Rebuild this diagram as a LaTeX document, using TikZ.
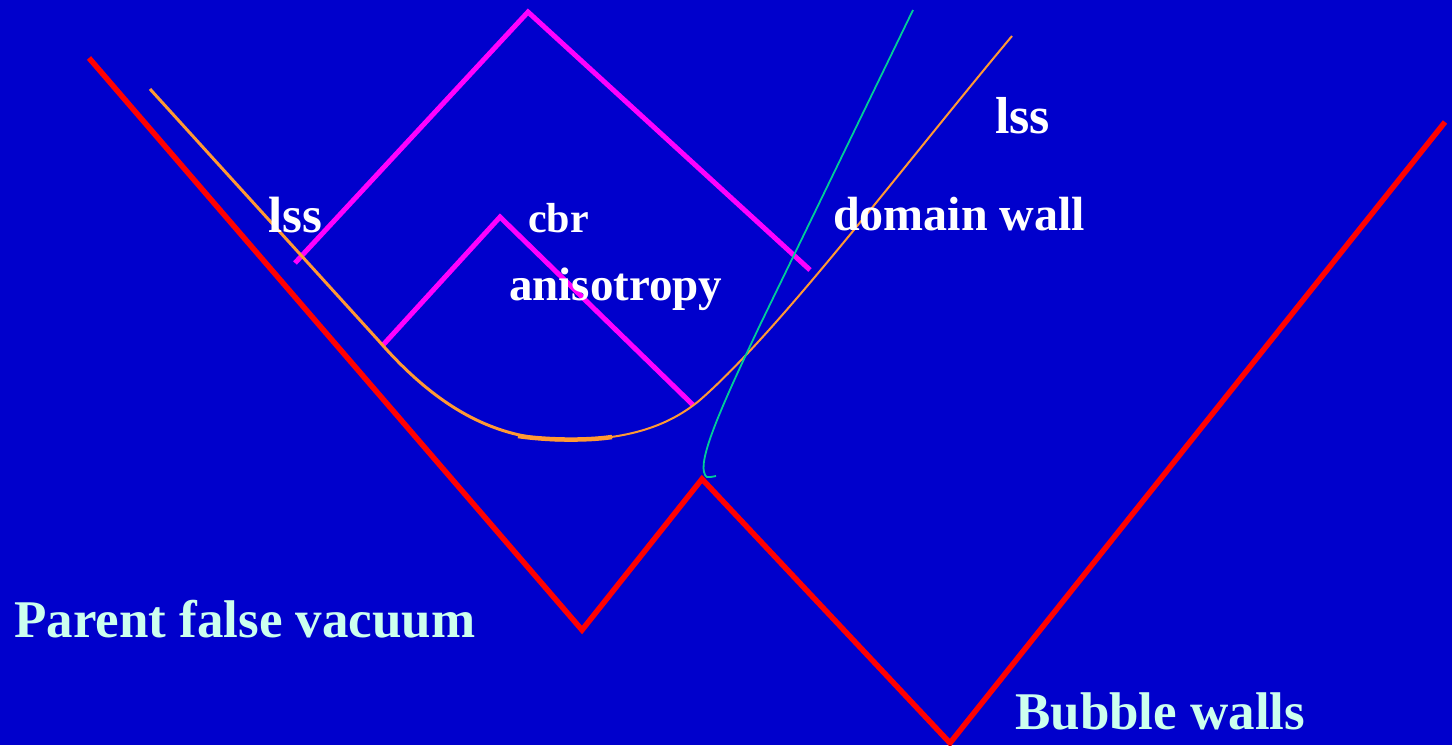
\documentclass[tikz,border=0pt]{standalone}
\usepackage{fontspec}
\setmainfont{Liberation Serif}
\definecolor{bg}{HTML}{0000CC}
\definecolor{wallred}{HTML}{FF0000}
\definecolor{mag}{HTML}{FF00FF}
\definecolor{orng}{HTML}{FF9933}
\definecolor{teal2}{HTML}{00CC99}
\definecolor{lcyan}{HTML}{CCFFEE}
\tikzset{
  wall/.style={draw=wallred, line width=5.5pt, line join=miter},
  cone/.style={draw=mag, line width=5pt, line join=miter},
  orangecurve/.style={draw=orng, line width=#1},
  tealcurve/.style={draw=teal2, line width=1.8pt},
  lbl/.style={anchor=base west, inner sep=0pt, text=white, font=\bfseries\fontsize{#1}{#1}\selectfont},
  biglbl/.style={anchor=base west, inner sep=0pt, text=lcyan, font=\bfseries\fontsize{53}{53}\selectfont}
}
\begin{document}
\begin{tikzpicture}[x=1pt,y=-1pt]
\fill[bg] (0,0) rectangle (1452,745);
\useasboundingbox (0,0) rectangle (1452,745);
% red bubble walls
\coordinate (r1) at (89,58);
\coordinate (r2) at (582,630);
\coordinate (r3) at (702,479);
\coordinate (r4) at (950,743);
\coordinate (r5) at (1445,122);
\draw[wall] (r1) -- (r2) -- (r3) -- (r4) -- (r5);
% magenta light cones
\coordinate (m1) at (295,263);
\coordinate (m2) at (528,12);
\coordinate (m3) at (810,270);
\draw[cone] (m1) -- (m2) -- (m3);
\coordinate (s1) at (383,345);
\coordinate (s2) at (500,217);
\coordinate (s3) at (693,405);
\draw[cone] (s1) -- (s2) -- (s3);
% orange domain wall
\coordinate (o1) at (150,89);
\coordinate (o2) at (378,340);
\coordinate (o3) at (565,440);
\coordinate (o4) at (700,400);
\coordinate (o5) at (1012,36);
\draw[orangecurve=3pt] (o1) -- (o2) .. controls (432,402) and (490,440) .. (o3);
\draw[orangecurve=2pt] (o3) .. controls (630,440) and (670,425) .. (o4)
  .. controls (780,330) and (900,170) .. (o5);
\coordinate (ob1) at (518,436);
\coordinate (ob2) at (612,437);
\draw[draw=orng, line width=4.5pt] (ob1) .. controls (545,440) and (585,441) .. (ob2);
% teal curve
\coordinate (t1) at (913,10);
\coordinate (t2) at (760,325);
\coordinate (t3) at (704,472);
\coordinate (t4) at (716,476);
\draw[tealcurve] (t1) -- (t2) .. controls (722,405) and (700,455) .. (t3)
  .. controls (706,478) .. (t4);
% labels
\node[lbl=51] (lssL) at (268,232) {lss};
\node[lbl=42] (cbr) at (528,232) {cbr};
\node[lbl=47] (aniso) at (509,300) {anisotropy};
\node[lbl=48] (dw) at (833,230) {domain wall};
\node[lbl=52] (lssR) at (995,133) {lss};
\node[biglbl] (pfv) at (14,637) {Parent false vacuum};
\node[biglbl] (bw) at (1015,729) {Bubble walls};
\end{tikzpicture}
\end{document}
